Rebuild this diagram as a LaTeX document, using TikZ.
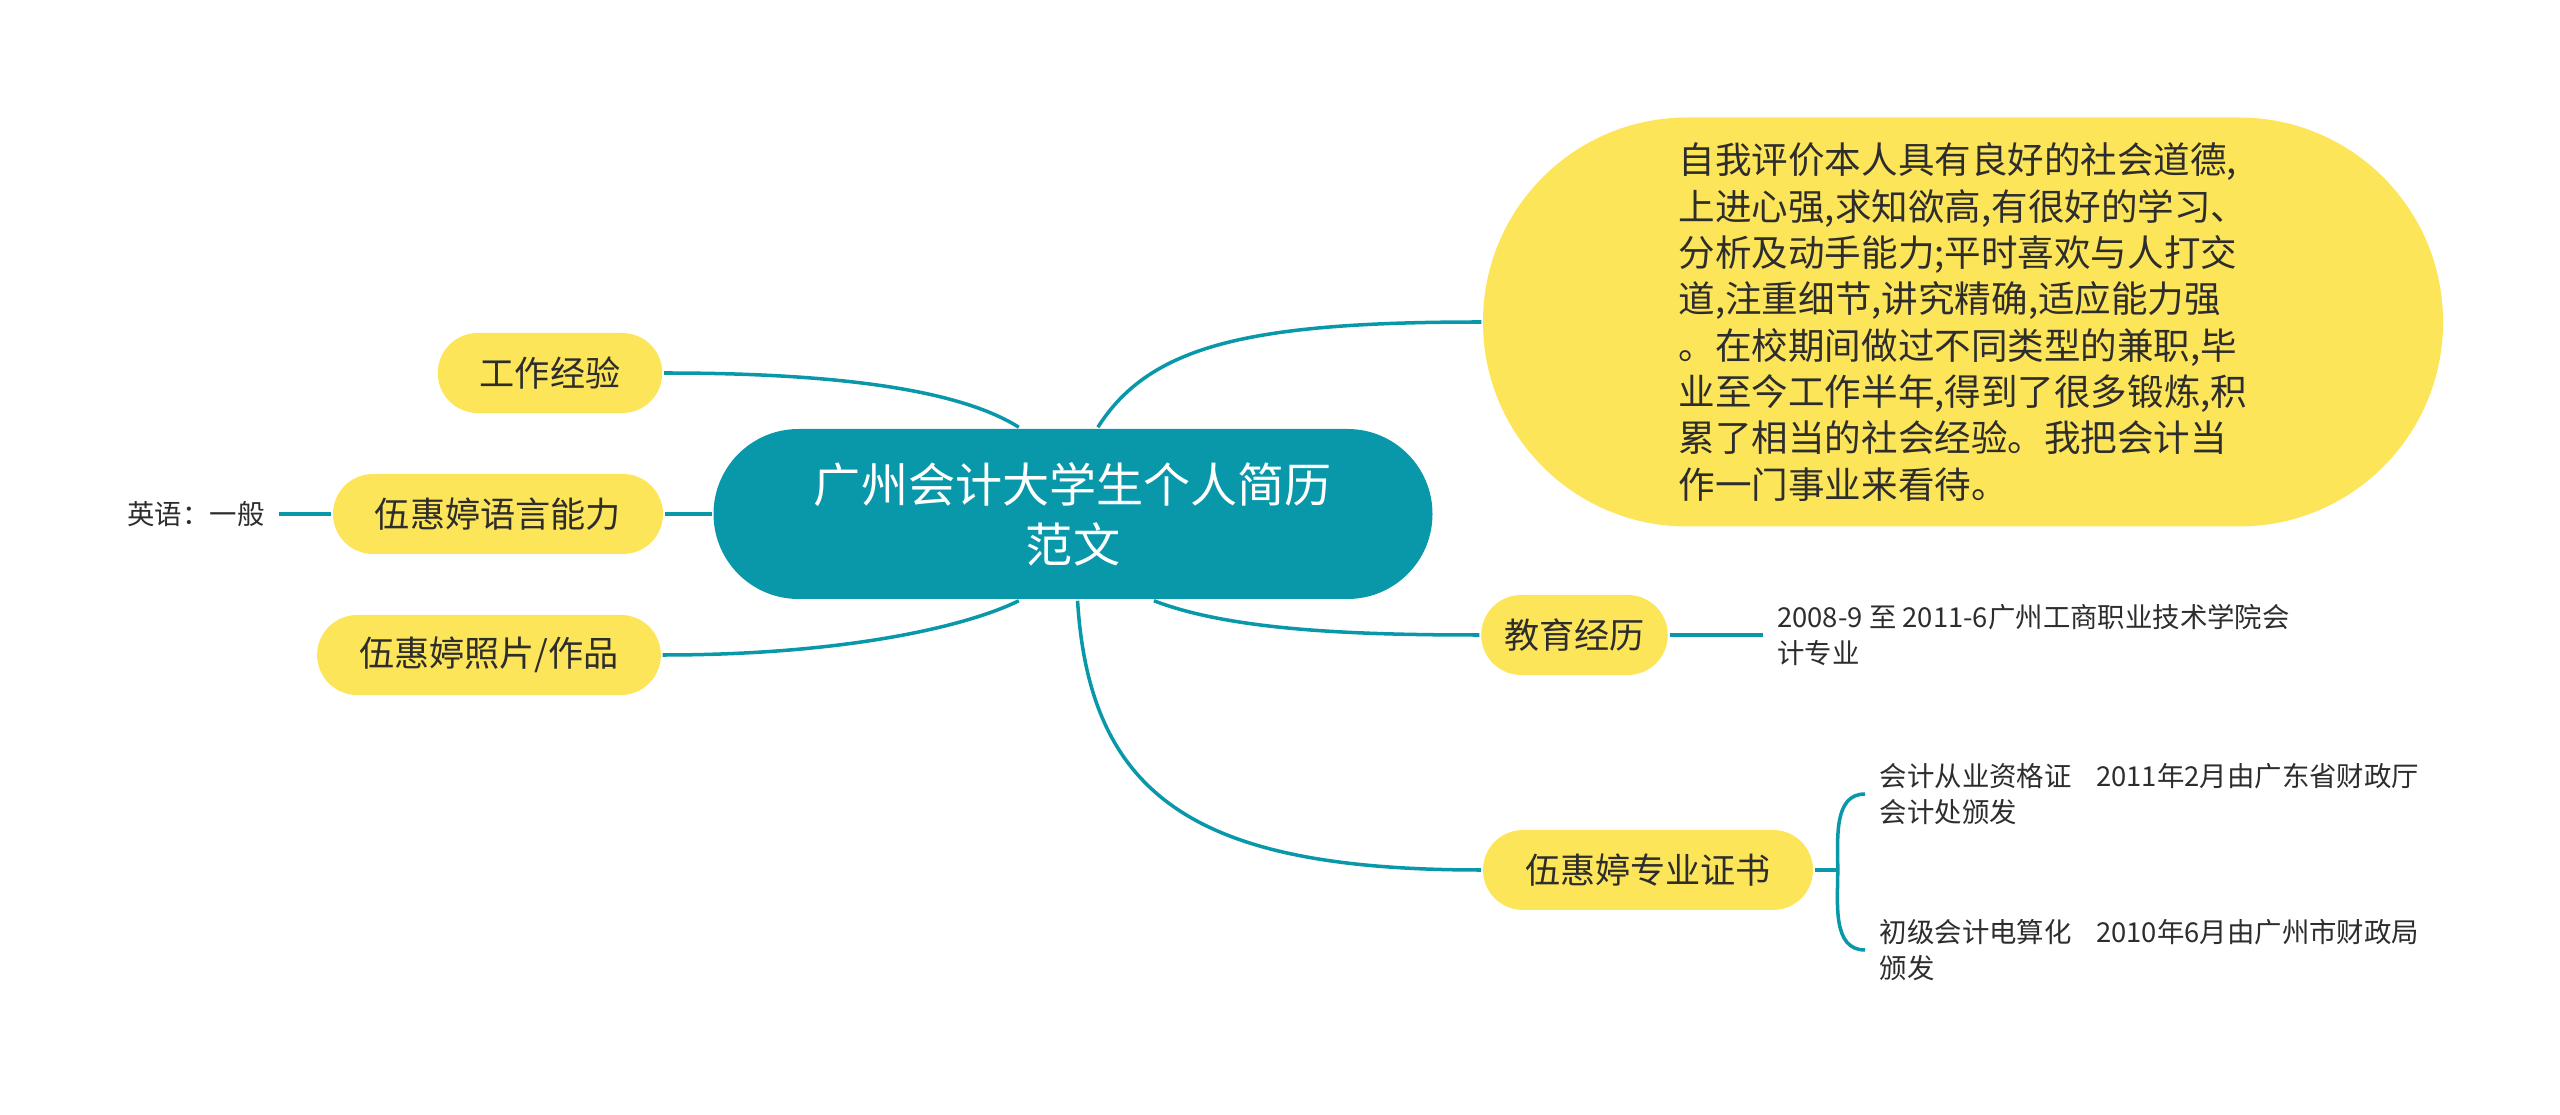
\documentclass[tikz,border=0pt]{standalone}
\usepackage{fontspec}
\setmainfont{Noto Sans CJK SC}
\usetikzlibrary{positioning,calc}
\definecolor{ink}{RGB}{45,45,45}
\definecolor{sea}{RGB}{8,152,170}
\definecolor{sun}{RGB}{253,229,90}
\tikzset{
  every picture/.style={color=ink, line width=1pt},
  pill/.style={fill=sun, draw=none, rounded corners=4mm, minimum height=8mm, inner xsep=4.2mm, inner ysep=0pt, text=ink, font=\fontsize{10}{12}\selectfont},
  hub/.style={fill=sea, draw=none, rounded corners=8.5mm, minimum width=71.9mm, minimum height=17mm, text=white, align=center, font=\fontsize{13.4}{17}\selectfont},
  blurb/.style={fill=sun, draw=none, rounded corners=20.4mm, minimum width=96mm, minimum height=40.9mm, align=left, text=ink, font=\fontsize{10.4}{13.2}\selectfont},
  note/.style={align=left, inner sep=1.3mm, text=ink, font=\fontsize{7.8}{10.2}\selectfont},
  link/.style={draw=sea, line width=1pt},
}
\begin{document}
\begin{tikzpicture}
  \useasboundingbox (0,0) rectangle (25.6,-11.15);
  % centre and main branches
  \node[hub] (root) at (10.73,-5.14) {广州会计大学生个人简历\\范文};
  \node[pill] (work) at (5.50,-3.73) {工作经验};
  \node[pill] (lang) at (4.98,-5.14) {伍惠婷语言能力};
  \node[pill] (photo) at (4.89,-6.55) {伍惠婷照片/作品};
  \node[blurb] (eval) at (19.63,-3.22) {自我评价本人具有良好的社会道德,\\上进心强,求知欲高,有很好的学习、\\分析及动手能力;平时喜欢与人打交\\道,注重细节,讲究精确,适应能力强\\。在校期间做过不同类型的兼职,毕\\业至今工作半年,得到了很多锻炼,积\\累了相当的社会经验。我把会计当\\作一门事业来看待。};
  \node[pill, inner xsep=2.3mm] (edu) at (15.745,-6.35) {教育经历};
  \node[pill] (cert) at (16.48,-8.70) {伍惠婷专业证书};
  % leaves
  \node[note, left=5.2mm of lang] (english) {英语：一般};
  \node[note, right=9.3mm of edu] (school) {2008-9 至 2011-6广州工商职业技术学院会\\计专业};
  \node[note, anchor=west] (acct) at (18.65,-7.94) {会计从业资格证\hspace{0.9em}2011年2月由广东省财政厅\\会计处颁发};
  \node[note, anchor=west] (comp) at (18.65,-9.50) {初级会计电算化\hspace{0.9em}2010年6月由广州市财政局\\颁发};
  \coordinate (fork) at ($(cert.east)+(0.23,0)$);
  % connectors
  \draw[link] (root.122) .. controls (9.63,-3.92) and (8.49,-3.73) .. (work.east);
  \draw[link] (root.west) -- (lang.east);
  \draw[link] (root.238) .. controls (9.70,-6.25) and (8.50,-6.55) .. (photo.east);
  \draw[link] (lang.west) -- (english.east);
  \draw[link] (root.74) .. controls (11.50,-3.45) and (12.50,-3.22) .. (eval.west);
  \draw[link] (root.313) .. controls (12.30,-6.30) and (13.50,-6.35) .. (edu.west);
  \draw[link] (root.273) .. controls (10.90,-8.00) and (12.00,-8.70) .. (cert.west);
  \draw[link] (edu.east) -- (school.west);
  \draw[link] (cert.east) -- (fork);
  \draw[link] (fork) to[out=90, in=180] (acct.west);
  \draw[link] (fork) to[out=-90, in=180] (comp.west);
\end{tikzpicture}
\end{document}
